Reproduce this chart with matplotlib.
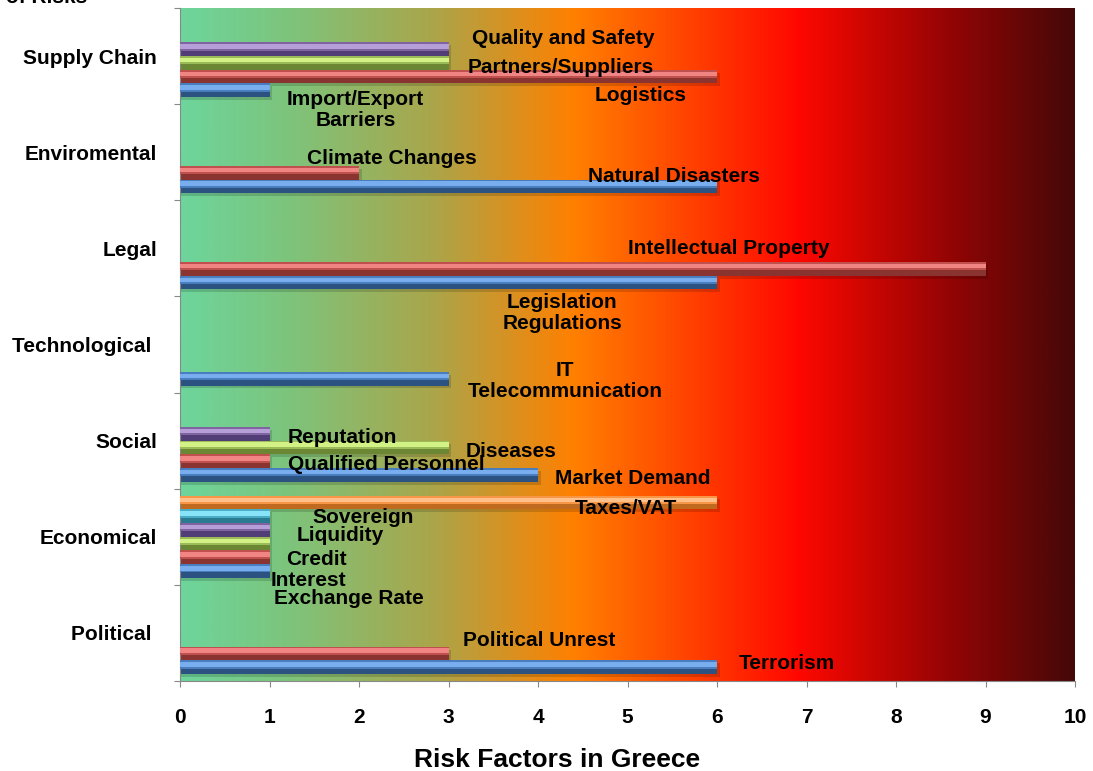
import numpy as np
import matplotlib
matplotlib.use("Agg")
import matplotlib.pyplot as plt
from matplotlib.colors import LinearSegmentedColormap

plt.rcParams["font.family"] = ["Liberation Sans", "DejaVu Sans"]
plt.rcParams["font.weight"] = "bold"

# categories, bottom to top
categories = ["Political ", "Economical", "Social", "Technological ",
              "Legal", "Enviromental", "Supply Chain"]

# series values per category (None = no bar)
blue = [6, 1, 4, 3, 6, 6, 1]
red = [3, 1, 1, None, 9, 2, 6]
green = [None, 1, 3, None, None, None, 3]
purple = [None, 1, 1, None, None, None, 3]
cyan = [None, 1, None, None, None, None, None]
orange = [None, 6, None, None, None, None, None]
series = [blue, red, green, purple, cyan, orange]

# bar label texts and where they were dragged to (x value, y in category units)
label_texts = ["Terrorism", "Political Unrest",
               "Exchange Rate", "Interest", "Credit", "Liquidity", "Sovereign", "Taxes/VAT",
               "Market Demand", "Qualified Personnel", "Diseases", "Reputation",
               "IT\nTelecommunication",
               "Legislation\nRegulations", "Intellectual Property",
               "Natural Disasters", "Climate Changes",
               "Import/Export\nBarriers", "Logistics", "Partners/Suppliers", "Quality and Safety"]
label_pos = [(6.78, 0.18), (4.01, 0.42),
             (1.89, 0.86), (1.43, 1.05), (1.52, 1.26), (1.79, 1.51), (2.05, 1.70), (4.98, 1.79),
             (5.06, 2.11), (2.30, 2.25), (3.70, 2.39), (1.81, 2.53),
             (4.30, 3.12),
             (4.27, 3.83), (6.13, 4.50),
             (5.52, 5.25), (2.37, 5.43),
             (1.96, 5.94), (5.15, 6.09), (4.25, 6.38), (4.28, 6.68)]

# (dark, base, light) shades for the bevelled bars
shades = [("#2C5282", "#4A7CC0", "#78AEEE"),
          ("#8A3432", "#C0504D", "#F08584"),
          ("#6C8733", "#9BBB59", "#D2F285"),
          ("#523E77", "#8064A2", "#B69ED8"),
          ("#2A7B92", "#4BACC6", "#88E2F8"),
          ("#BF6A1F", "#F79646", "#FFC08A")]

fig = plt.figure(figsize=(10.93, 7.71), dpi=100)
ax = fig.add_axes([180 / 1093, 1 - 681 / 771, 895 / 1093, 673 / 771])

# background gradient
bg = LinearSegmentedColormap.from_list(
    "bg", [(0.0, "#6DD59C"), (0.12, "#7DC47C"), (0.28, "#A9A64B"),
           (0.44, "#FF8000"), (0.69, "#FF0800"), (0.85, "#9A0404"), (1.0, "#450808")])
ax.imshow(np.linspace(0, 1, 512).reshape(1, -1), cmap=bg, aspect="auto",
          extent=[0, 10, 0, 7], zorder=0)

h = 0.1425
gap = (1 - 6 * h) / 2
for k, vals in enumerate(series):
    dark, base, light = shades[k]
    for c, v in enumerate(vals):
        if v is None:
            continue
        yc = c + gap + h * (k + 0.5)
        ax.barh(yc - 0.03, v + 0.03, h, color="black", alpha=0.15, zorder=1)
        ax.barh(yc, v, h, color=dark, zorder=2)
        ax.barh(yc + h * 0.2, v, h * 0.6, color=base, zorder=3)
        ax.barh(yc + h * 0.2, v, h * 0.33, color=light, zorder=4)

for txt, (x, y) in zip(label_texts, label_pos):
    ax.text(x, y, txt, ha="center", va="center", fontsize=15, fontweight="bold",
            linespacing=1.1, zorder=5)

ax.set_xlim(0, 10)
ax.set_ylim(0, 7)
ax.set_xticks(range(11))
ax.tick_params(axis="x", length=4.3, color="#888888", pad=15, labelsize=15)
ax.set_yticks(range(8))
ax.set_yticklabels([])
ax.set_yticks(np.arange(7) + 0.5, minor=True)
ax.set_yticklabels(categories, minor=True)
ax.tick_params(axis="y", which="major", length=4.3, color="#888888")
ax.tick_params(axis="y", which="minor", length=0, pad=16.5, labelsize=15)
for lab in ax.get_xticklabels() + ax.get_yticklabels(minor=True):
    lab.set_fontweight("bold")
for s in ["top", "right"]:
    ax.spines[s].set_visible(False)
for s in ["left", "bottom"]:
    ax.spines[s].set_color("#888888")

fig.text(557 / 1093, 1 - 760 / 771, "Risk Factors in Greece", ha="center", va="center",
         fontsize=19, fontweight="bold")
fig.text(87 / 1093, 1 - 3 / 771, "Types of Risks", ha="right", va="baseline",
         fontsize=15, fontweight="bold")

fig.savefig("out.png", dpi=100)
